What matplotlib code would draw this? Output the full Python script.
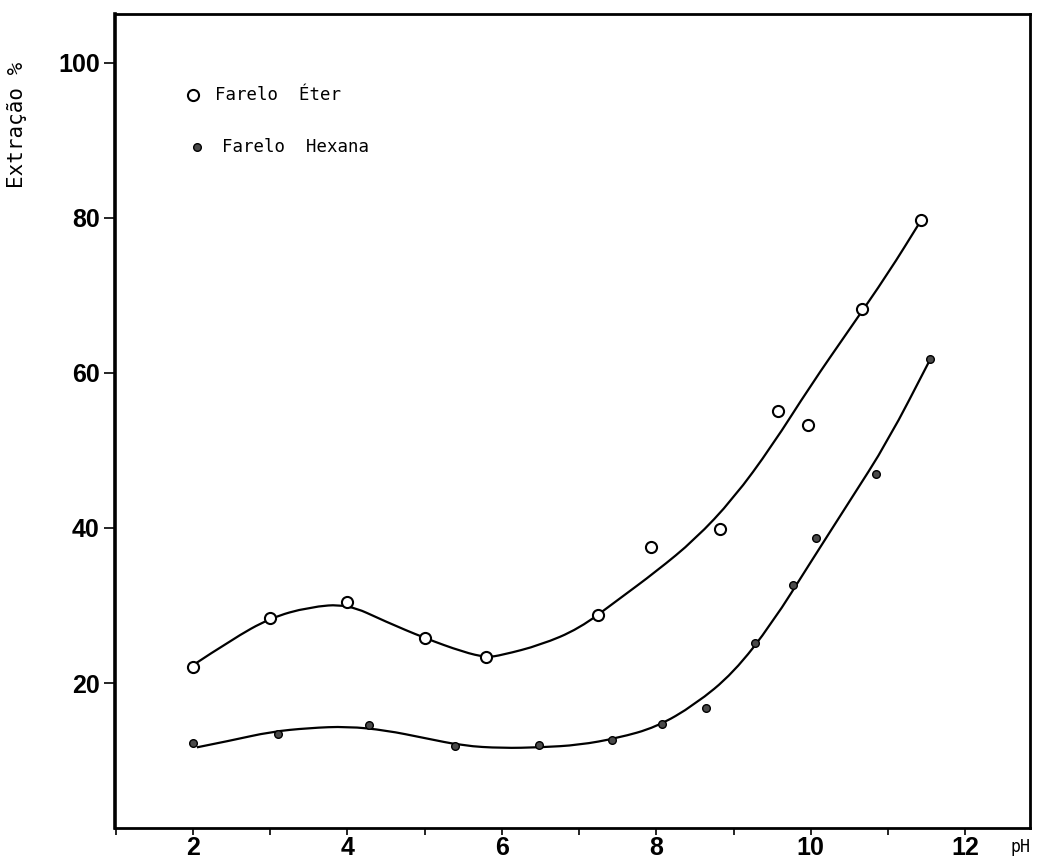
import matplotlib
matplotlib.use("Agg")
import matplotlib.pyplot as plt
from matplotlib.path import Path
from matplotlib.patches import PathPatch
from matplotlib.ticker import MultipleLocator

# measured points
eter_ph = [2.0, 3.0, 4.0, 5.0, 5.8, 7.24, 7.93, 8.83, 9.58, 9.96, 10.67, 11.43]
eter_ext = [22.1, 28.4, 30.5, 25.8, 23.4, 28.8, 37.6, 39.9, 55.1, 53.3, 68.3, 79.7]
hex_ph = [2.0, 3.1, 4.28, 5.39, 6.48, 7.43, 8.08, 8.64, 9.28, 9.77, 10.07, 10.85, 11.55]
hex_ext = [12.3, 13.4, 14.6, 11.9, 12.0, 12.6, 14.7, 16.8, 25.2, 32.6, 38.7, 47.0, 61.8]

# hand drawn fitted curves
eter_curve_ph = [2.0, 2.5, 3.0, 3.5, 4.0, 4.5, 5.0, 5.5, 5.8, 6.0, 6.5, 7.0, 7.5,
                 8.0, 8.5, 9.0, 9.5, 10.0, 10.5, 11.0, 11.43]
eter_curve = [22.3, 25.6, 28.4, 29.8, 30.2, 27.9, 25.8, 24.0, 23.3, 23.6, 24.9, 27.0, 30.7,
              34.4, 38.5, 43.8, 50.6, 58.4, 65.6, 72.8, 79.7]
hex_curve_ph = [2.05, 2.5, 3.0, 3.5, 4.0, 4.5, 5.0, 5.5, 6.0, 6.5, 7.0, 7.5, 8.0,
                8.5, 9.0, 9.5, 10.0, 10.5, 11.0, 11.55]
hex_curve = [11.7, 12.6, 13.7, 14.2, 14.4, 13.9, 12.9, 11.9, 11.6, 11.7, 12.0, 12.9, 14.3,
             17.2, 21.3, 27.7, 35.6, 43.4, 51.2, 61.8]

x_ticks = [2, 4, 6, 8, 10, 12]
y_ticks = [20, 40, 60, 80, 100]


def smooth_path(xs, ys):
    pts = list(zip(xs, ys))
    verts = [pts[0]]
    codes = [Path.MOVETO]
    for i in range(1, len(pts) - 1):
        mid = ((pts[i][0] + pts[i + 1][0]) / 2, (pts[i][1] + pts[i + 1][1]) / 2)
        verts += [pts[i], mid]
        codes += [Path.CURVE3, Path.CURVE3]
    verts.append(pts[-1])
    codes.append(Path.LINETO)
    return Path(verts, codes)


fig = plt.figure(figsize=(10.38, 8.66), dpi=100)
ax = fig.add_axes([0.1108, 0.0439, 0.8815, 0.9399])

for xs, ys in [(eter_curve_ph, eter_curve), (hex_curve_ph, hex_curve)]:
    ax.add_patch(PathPatch(smooth_path(xs, ys), facecolor='none', edgecolor='black',
                           linewidth=1.6, zorder=2))

ax.plot(eter_ph, eter_ext, 'o', ms=8, mfc='white', mec='black', mew=1.5, zorder=3)
ax.plot(hex_ph, hex_ext, 'o', ms=5.5, mfc='#4a4a4a', mec='black', mew=1.0, zorder=3)

ax.set_xlim(0.99, 12.84)
ax.set_ylim(1.3, 106.3)
ax.set_xticks(x_ticks)
ax.set_yticks(y_ticks)
ax.xaxis.set_minor_locator(MultipleLocator(1))
ax.tick_params(axis='x', which='both', direction='out', length=5, width=1.2, pad=1,
               top=False)
ax.tick_params(axis='y', direction='out', length=8, width=1.2, pad=3, right=False)
ax.tick_params(axis='y', which='minor', left=False)
for lab in ax.get_xticklabels() + ax.get_yticklabels():
    lab.set_fontfamily('Liberation Sans')
    lab.set_fontsize(18)
    lab.set_fontweight('bold')

for side in ['top', 'right', 'bottom']:
    ax.spines[side].set_linewidth(2.0)
ax.spines['left'].set_linewidth(2.6)

mono = 'DejaVu Sans Mono'
ax.text(-0.107, 0.864, 'Extração %', transform=ax.transAxes, rotation=90,
        ha='center', va='center', fontsize=15, family=mono)
ax.text(1.0, -0.012, 'pH', transform=ax.transAxes, ha='right', va='top',
        fontsize=12, family=mono)

# legend
ax.plot([2.0], [95.9], 'o', ms=8, mfc='white', mec='black', mew=1.5)
ax.text(2.28, 95.9, 'Farelo  Éter', ha='left', va='center', fontsize=12.5, family=mono)
ax.plot([2.05], [89.2], 'o', ms=5.5, mfc='#4a4a4a', mec='black', mew=1.0)
ax.text(2.38, 89.2, 'Farelo  Hexana', ha='left', va='center', fontsize=12.5, family=mono)

fig.savefig('out.png', dpi=100)
